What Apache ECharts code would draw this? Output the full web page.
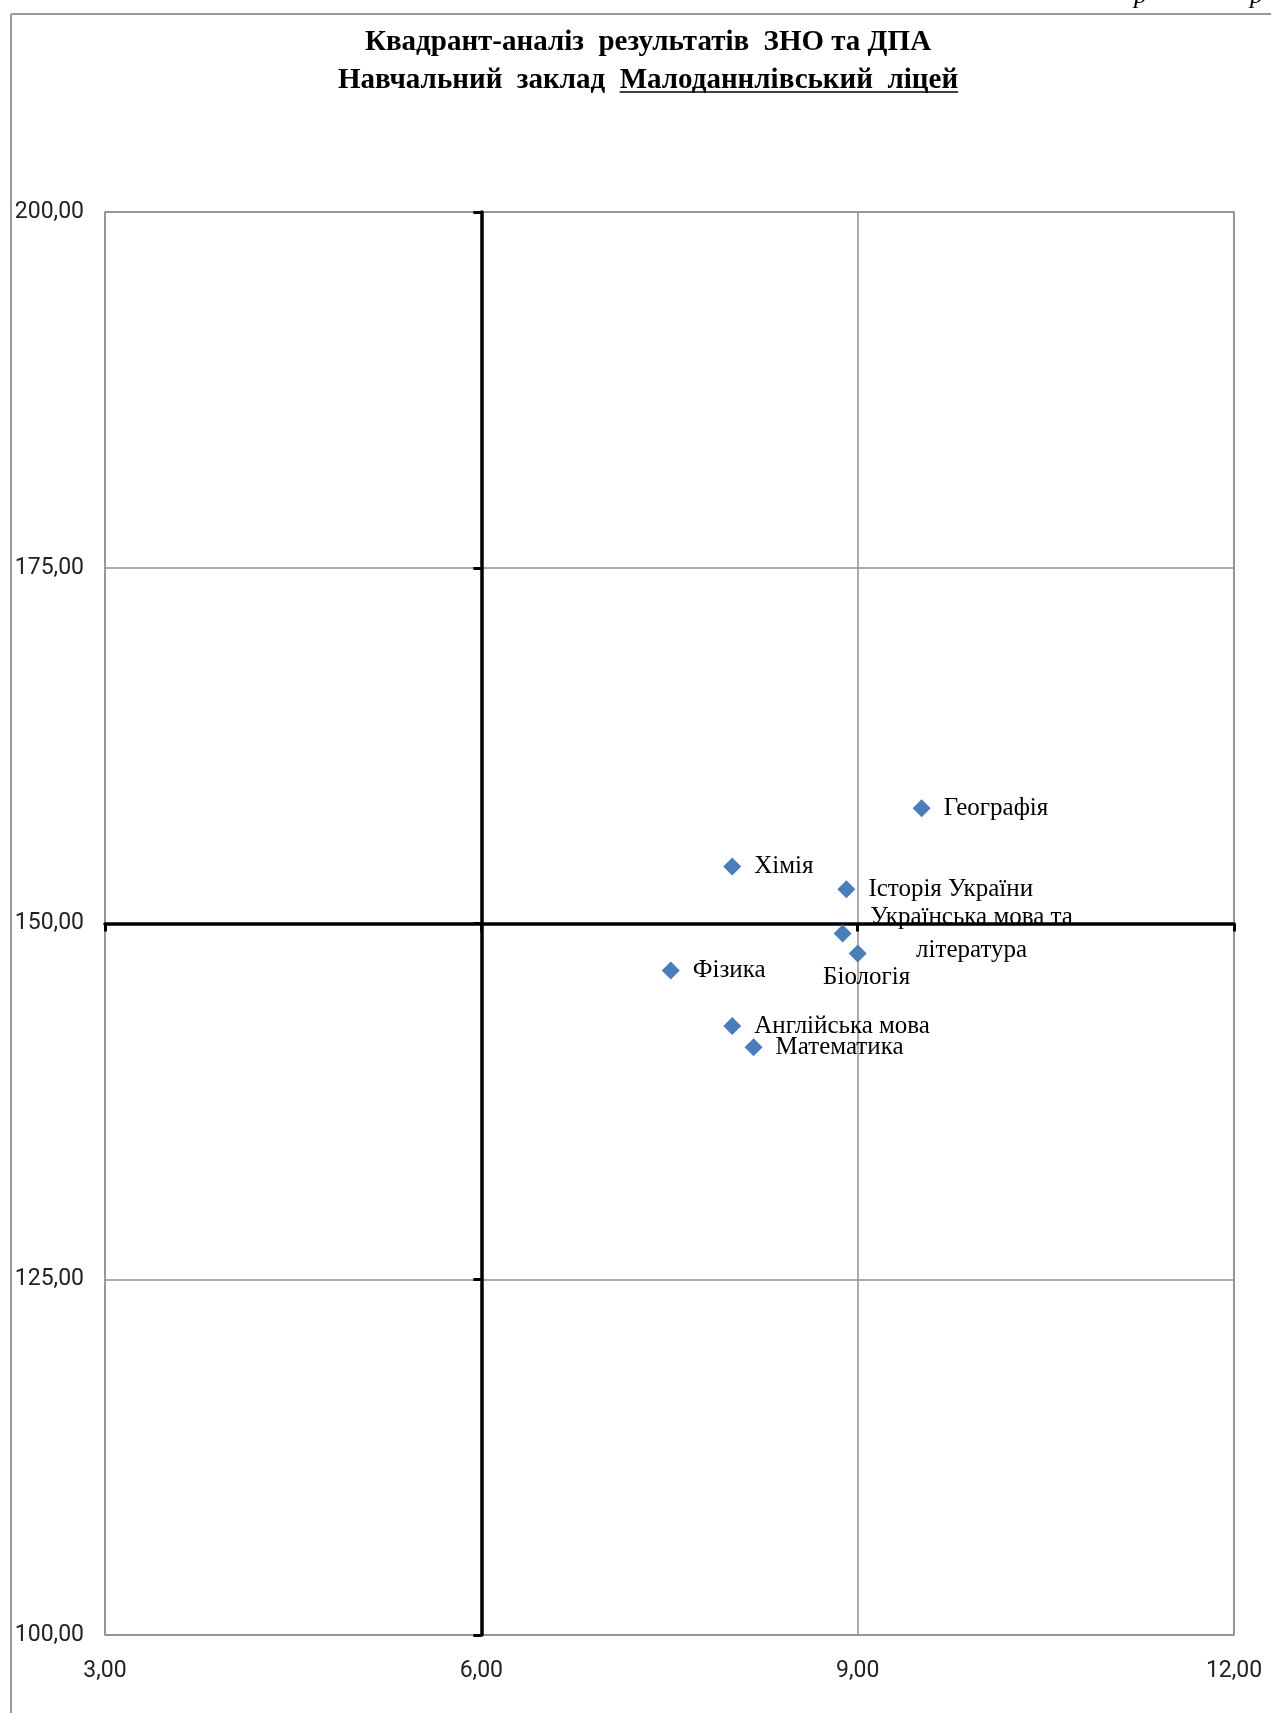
<!DOCTYPE html>
<html><head><meta charset="utf-8">
<script src="https://cdn.jsdelivr.net/npm/echarts@6/dist/echarts.min.js"></script>
<style>html,body{margin:0;padding:0;background:#fff}#c{width:1271px;height:1713px}</style>
</head><body><div id="c"></div>
<script>
// ---- data ----
const titleLine1 = 'Квадрант-аналіз  результатів  ЗНО та ДПА';
const titleLine2a = 'Навчальний  заклад  ';
const titleLine2b = 'Малоданнлівський  ліцей';
const subjects = ['Географія', 'Хімія', 'Історія України', 'Українська мова та\nлітература', 'Біологія', 'Фізика', 'Англійська мова', 'Математика'];
const xValues = [9.51, 8.00, 8.91, 8.88, 9.00, 7.51, 8.00, 8.17];
const yValues = [158.1, 154.0, 152.4, 149.3, 147.9, 146.7, 142.8, 141.3];
const xTicks = [3, 6, 9, 12];
const yTicks = [100, 125, 150, 175, 200];
const xCross = 6;
const yCross = 150;

// ---- chart ----
const fmt = v => v.toFixed(2).replace('.', ',');
const xMin = xTicks[0], xMax = xTicks[xTicks.length - 1], xStep = xTicks[1] - xTicks[0];
const yMin = yTicks[0], yMax = yTicks[yTicks.length - 1], yStep = yTicks[1] - yTicks[0];

const titleFont = 'bold 29px "Liberation Serif"';
const cv = document.createElement('canvas').getContext('2d');
cv.font = titleFont;
const w2a = cv.measureText(titleLine2a).width;
const w2b = cv.measureText(titleLine2b).width;
const titleCx = 648;
const start2 = titleCx - (w2a + w2b) / 2;

const labelStyle = { fontFamily: '"Liberation Serif"', fontSize: 25, color: '#000' };
const special = {
  'Українська мова та\nлітература': { position: 'right', distance: 0, align: 'center', offset: [120, 0], lineHeight: 33 },
  'Біологія': { position: 'bottom', distance: 3, offset: [9, 0] }
};
const points = subjects.map((s, i) => {
  const item = { name: s, value: [xValues[i], yValues[i]] };
  if (special[s]) item.label = Object.assign({}, special[s]);
  return item;
});

const gray = '#8f8f8f';
const axisFont = { fontFamily: 'Roboto', fontSize: 23, color: '#222' };
const option = {
  backgroundColor: '#fff',
  animation: false,
  grid: { left: 105, right: 37, top: 212, bottom: 78, show: true, borderColor: gray, borderWidth: 1.5, containLabel: false },
  xAxis: [
    { type: 'value', min: xMin, max: xMax, interval: xStep, position: 'bottom',
      axisLine: { show: false, onZero: false }, axisTick: { show: false },
      splitLine: { show: true, lineStyle: { color: gray, width: 1.5 } },
      axisLabel: Object.assign({ formatter: fmt, margin: 25 }, axisFont) },
    { type: 'value', min: xMin - xCross, max: xMax - xCross, interval: xStep, position: 'bottom',
      axisLine: { show: true, onZero: true, onZeroAxisIndex: 1, lineStyle: { color: '#000', width: 3.5 } },
      axisTick: { show: true, length: 8, lineStyle: { color: '#000', width: 3 } },
      splitLine: { show: false }, axisLabel: { show: false } }
  ],
  yAxis: [
    { type: 'value', min: yMin, max: yMax, interval: yStep, position: 'left',
      axisLine: { show: false, onZero: false }, axisTick: { show: false },
      splitLine: { show: true, lineStyle: { color: gray, width: 1.5 } },
      axisLabel: Object.assign({ formatter: fmt, margin: 21 }, axisFont) },
    { type: 'value', min: yMin - yCross, max: yMax - yCross, interval: yStep, position: 'left',
      axisLine: { show: true, onZero: true, onZeroAxisIndex: 1, lineStyle: { color: '#000', width: 3.5 } },
      axisTick: { show: true, length: 8, lineStyle: { color: '#000', width: 3 } },
      splitLine: { show: false }, axisLabel: { show: false } }
  ],
  series: [{
    type: 'scatter', xAxisIndex: 0, yAxisIndex: 0,
    symbol: 'diamond', symbolSize: 18,
    itemStyle: { color: '#4a7ebb', opacity: 1 },
    label: Object.assign({ show: true, formatter: '{b}', position: 'right', distance: 13 }, labelStyle),
    data: points,
    z: 5
  }],
  graphic: [
    { type: 'line', shape: { x1: 11, y1: 14, x2: 1271, y2: 14 }, style: { stroke: '#999', lineWidth: 2 } },
    { type: 'line', shape: { x1: 11, y1: 14, x2: 11, y2: 1713 }, style: { stroke: '#999', lineWidth: 2 } },
    { type: 'text', x: 1134, y: -17, style: { text: 'р', font: 'italic 26px "Liberation Serif"', fill: '#000', verticalAlign: 'top' } },
    { type: 'text', x: 1250, y: -17, style: { text: 'р', font: 'italic 26px "Liberation Serif"', fill: '#000', verticalAlign: 'top' } },
    { type: 'text', x: titleCx, y: 43, style: { text: titleLine1, font: titleFont, fill: '#000', align: 'center', verticalAlign: 'middle' } },
    { type: 'text', x: start2, y: 81, style: { text: titleLine2a, font: titleFont, fill: '#000', align: 'left', verticalAlign: 'middle' } },
    { type: 'text', x: start2 + w2a, y: 81, style: { text: titleLine2b, font: titleFont, fill: '#000', align: 'left', verticalAlign: 'middle' } },
    { type: 'line', shape: { x1: start2 + w2a, y1: 92, x2: start2 + w2a + w2b, y2: 92 }, style: { stroke: '#000', lineWidth: 1.5 } }
  ]
};
const chart = echarts.init(document.getElementById('c'), null, { renderer: 'canvas' });
chart.setOption(option);
</script>
</body></html>
